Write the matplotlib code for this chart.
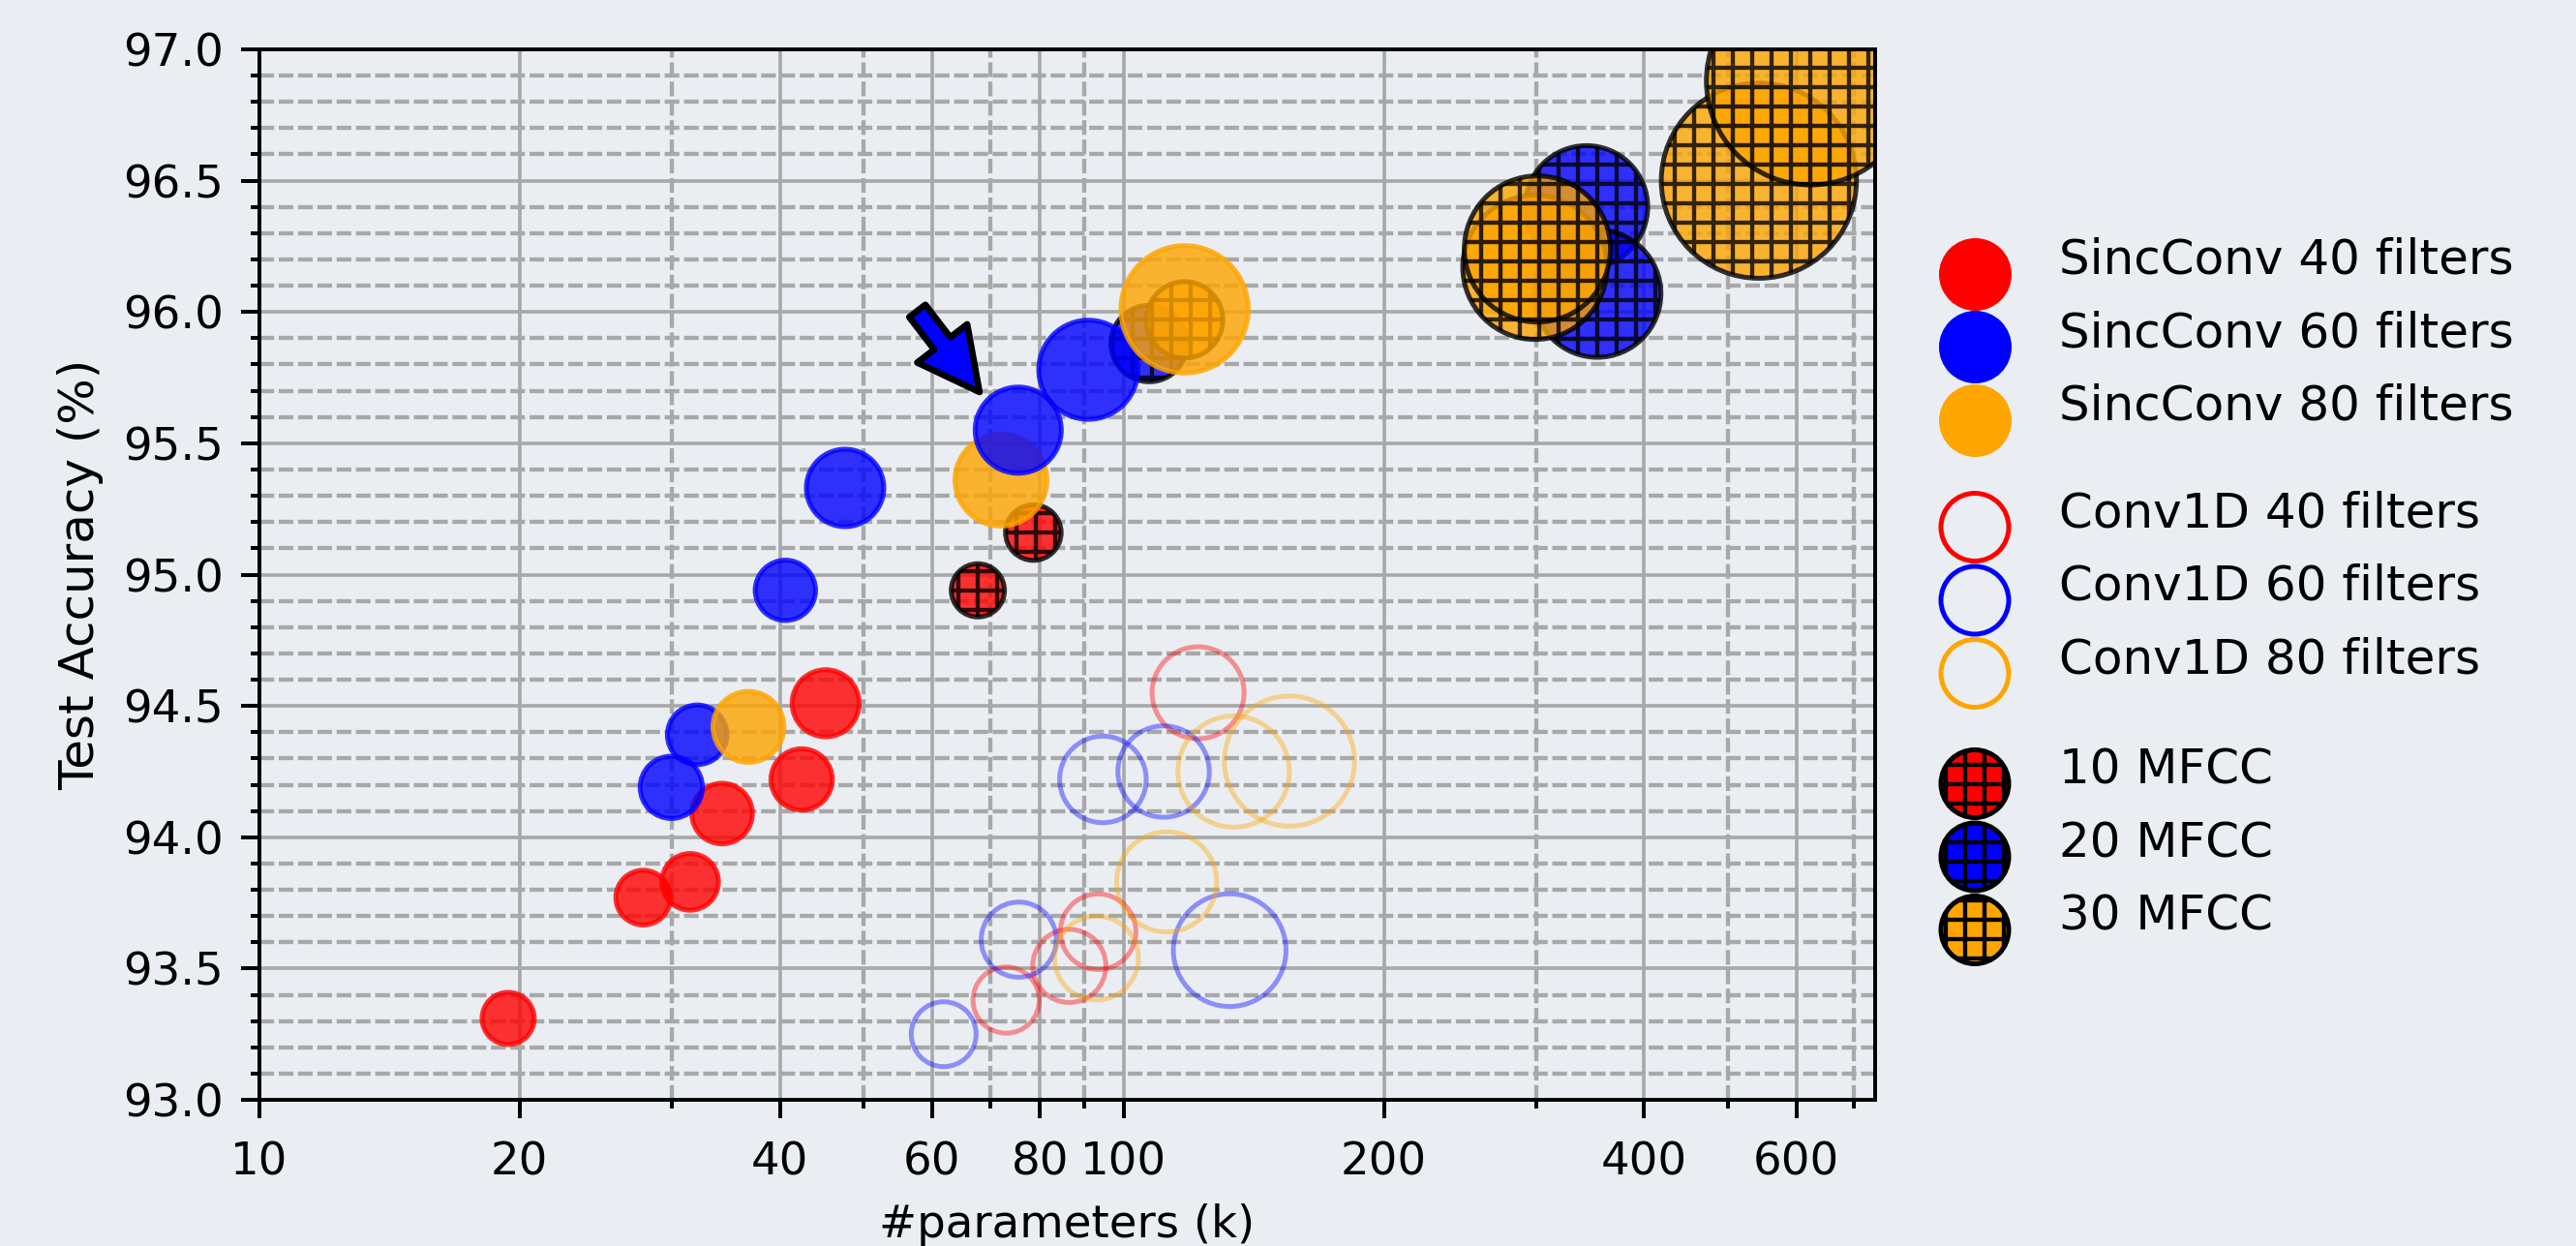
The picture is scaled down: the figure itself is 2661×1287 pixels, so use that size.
import numpy as np
import matplotlib.pyplot as plt
from matplotlib.ticker import FixedLocator, FixedFormatter, MultipleLocator, NullFormatter, FormatStrFormatter

plt.rcParams['font.family'] = 'DejaVu Sans'
plt.rcParams['font.size'] = 14
plt.rcParams['hatch.linewidth'] = 1.3

BG = '#eaeef3'

# SincConv front-end: parameters (k), test accuracy (%), marker area
sinc40_k = [19.4, 27.8, 31.5, 34.3, 42.4, 45.2]
sinc40_acc = [93.31, 93.77, 93.83, 94.09, 94.22, 94.51]
sinc40_s = [262, 288, 309, 353, 362, 433]

sinc60_k = [29.96, 32.1, 40.6, 47.6, 75.5, 91.0]
sinc60_acc = [94.19, 94.39, 94.94, 95.33, 95.55, 95.78]
sinc60_s = [373, 342, 350, 576, 713, 944]

sinc80_k = [36.8, 72.1, 117.6]
sinc80_acc = [94.42, 95.36, 96.01]
sinc80_s = [485, 812, 1559]

# Conv1D front-end
conv40_k = [73.1, 86.5, 93.4, 121.9]
conv40_acc = [93.38, 93.51, 93.64, 94.55]
conv40_s = [421, 514, 548, 812]

conv60_k = [61.9, 75.6, 94.6, 111.2, 132.6]
conv60_acc = [93.25, 93.61, 94.22, 94.25, 93.57]
conv60_s = [404, 542, 719, 802, 1219]

conv80_k = [93.0, 112.1, 134.0, 155.5]
conv80_acc = [93.54, 93.83, 94.25, 94.29]
conv80_s = [675, 962, 1190, 1626]

# MFCC front-end
mfcc10_k = [67.8, 78.6]
mfcc10_acc = [94.94, 95.16]
mfcc10_s = [272, 297]

mfcc20_k = [107.0, 343.0, 353.0]
mfcc20_acc = [95.88, 96.40, 96.07]
mfcc20_s = [562, 1443, 1559]

mfcc30_k = [117.6, 299.0, 301.0, 543.0, 623.0]
mfcc30_acc = [95.97, 96.17, 96.24, 96.50, 96.88]
mfcc30_s = [562, 1998, 2052, 3658, 4160]

xticks = [10, 20, 40, 60, 80, 100, 200, 400, 600]
xticks_minor = [30, 50, 70, 90, 300, 500, 700]

fig = plt.figure(figsize=(2661 / 240, 1287 / 240), dpi=240, facecolor=BG)
ax = fig.add_axes([0.1007, 0.1173, 0.6272, 0.8431], facecolor=BG)

# MFCC models (hatched)
for k, acc, s, c in [(mfcc10_k, mfcc10_acc, mfcc10_s, 'red'),
                     (mfcc20_k, mfcc20_acc, mfcc20_s, 'blue'),
                     (mfcc30_k, mfcc30_acc, mfcc30_s, 'orange')]:
    ax.scatter(k, acc, s=s, facecolor=c, edgecolor='black', hatch='++',
               linewidth=1.5, alpha=0.8, zorder=2)

# Conv1D models (hollow)
for k, acc, s, c in [(conv40_k, conv40_acc, conv40_s, 'red'),
                     (conv60_k, conv60_acc, conv60_s, 'blue'),
                     (conv80_k, conv80_acc, conv80_s, 'orange')]:
    ax.scatter(k, acc, s=s, facecolor='none', edgecolor=c,
               linewidth=1.5, alpha=0.4, zorder=3)

# SincConv models, drawn in order of accuracy
sinc_k = np.concatenate([sinc40_k, sinc60_k, sinc80_k])
sinc_acc = np.concatenate([sinc40_acc, sinc60_acc, sinc80_acc])
sinc_s = np.concatenate([sinc40_s, sinc60_s, sinc80_s])
sinc_c = np.array(['red'] * len(sinc40_k) + ['blue'] * len(sinc60_k) + ['orange'] * len(sinc80_k))
order = np.argsort(sinc_acc)
ax.scatter(sinc_k[order], sinc_acc[order], s=sinc_s[order], c=sinc_c[order],
           linewidth=1.5, alpha=0.8, zorder=4)

# arrow pointing at the selected model
ax.annotate('', xy=(68.1, 95.695), xytext=(57.7, 96.004), zorder=5,
            arrowprops=dict(arrowstyle='simple,head_length=1.9,head_width=1.95,tail_width=0.63',
                            mutation_scale=10, fc='blue', ec='black', lw=2,
                            shrinkA=0, shrinkB=0))

ax.set_xscale('log')
ax.set_xlim(10, 740)
ax.set_ylim(93, 97)
ax.xaxis.set_major_locator(FixedLocator(xticks))
ax.xaxis.set_major_formatter(FixedFormatter([str(t) for t in xticks]))
ax.xaxis.set_minor_locator(FixedLocator(xticks_minor))
ax.xaxis.set_minor_formatter(NullFormatter())
ax.yaxis.set_major_locator(MultipleLocator(0.5))
ax.yaxis.set_minor_locator(MultipleLocator(0.1))
ax.yaxis.set_major_formatter(FormatStrFormatter('%.1f'))

ax.set_axisbelow(True)
ax.grid(which='major', color='#a8a8a8', linewidth=1.1, linestyle='-')
ax.grid(which='minor', color='#a8a8a8', linewidth=1.3, linestyle=(0, (3.5, 1.1)))

ax.tick_params(which='major', length=5.6, width=1.2)
ax.tick_params(which='minor', length=2.8, width=1.2)
ax.tick_params(axis='x', which='both', pad=7)
ax.tick_params(axis='y', which='both', pad=5.5)
for sp in ax.spines.values():
    sp.set_linewidth(1.2)

ax.set_xlabel('#parameters (k)', labelpad=6)
ax.set_ylabel('Test Accuracy (%)', fontsize=15, labelpad=6)

# legends: three groups
def proxy(**kw):
    return ax.scatter([], [], s=441, linewidth=1.5, **kw)

colors = ['red', 'blue', 'orange']
sinc_h = [proxy(facecolor=c, edgecolor=c) for c in colors]
conv_h = [proxy(facecolor='none', edgecolor=c) for c in colors]
mfcc_h = [proxy(facecolor=c, edgecolor='black', hatch='++') for c in colors]

sinc_lab = ['SincConv 40 filters', 'SincConv 60 filters', 'SincConv 80 filters']
conv_lab = ['Conv1D 40 filters', 'Conv1D 60 filters', 'Conv1D 80 filters']
mfcc_lab = ['10 MFCC', '20 MFCC', '30 MFCC']

leg_kw = dict(loc='center left', frameon=False, scatterpoints=1, scatteryoffsets=[0.0],
              borderpad=0, borderaxespad=0, handlelength=2.0, handletextpad=0.74,
              labelspacing=0.55, fontsize=15)
W, H = 2661, 1287
fig.legend(sinc_h, sinc_lab, bbox_to_anchor=(1990 / W, 1 - 344.4 / H), **leg_kw)
fig.legend(conv_h, conv_lab, bbox_to_anchor=(1990 / W, 1 - 606.0 / H), **leg_kw)
fig.legend(mfcc_h, mfcc_lab, bbox_to_anchor=(1990 / W, 1 - 871.0 / H), **leg_kw)

fig.savefig('out.png', dpi=240, facecolor=BG)
